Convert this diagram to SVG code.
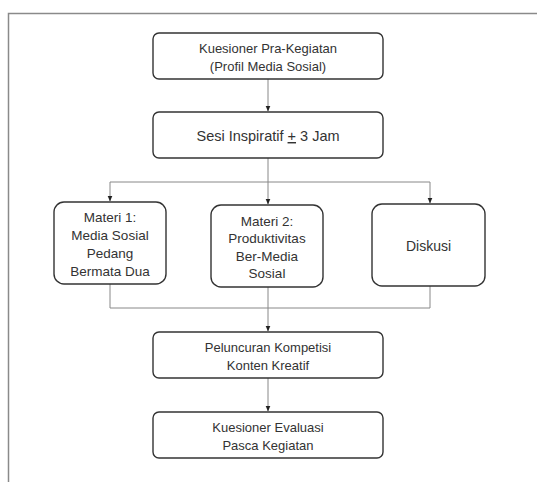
<svg xmlns="http://www.w3.org/2000/svg" width="537" height="482" viewBox="0 0 537 482">
<defs>
<marker id="ah" viewBox="0 0 6 6" refX="5.5" refY="3" markerWidth="6" markerHeight="6" markerUnits="userSpaceOnUse" orient="auto">
<path d="M0,0.5 L6,3 L0,5.5 Z" fill="#222"/>
</marker>
<style>
.box{fill:#fff;stroke:#333;stroke-width:1.4}
.t{font-family:"Liberation Sans",Arial,sans-serif;font-size:13px;fill:#333;text-anchor:middle}
.m{font-size:13.5px}
.c{fill:none;stroke:#888;stroke-width:1}
</style>
</defs>
<rect x="0" y="0" width="537" height="482" fill="#fff"/>
<path d="M8.5,482 V13.5 H537" fill="none" stroke="#8a8a8a" stroke-width="1.5"/>
<g id="connectors">
<path class="c" d="M268,79 V111" marker-end="url(#ah)"/>
<path class="c" d="M268,158 V204" marker-end="url(#ah)"/>
<path class="c" d="M110,182 H430 V203" marker-end="url(#ah)"/>
<path class="c" d="M110,182 V201" marker-end="url(#ah)"/>
<path class="c" d="M110,284 V308 H430 V286"/>
<path class="c" d="M268,287 V331" marker-end="url(#ah)"/>
<path class="c" d="M268,378 V411" marker-end="url(#ah)"/>
</g>
<g id="n1"><rect class="box" x="153" y="33" width="230" height="46" rx="6"/>
<text class="t" x="268" y="52.5">Kuesioner Pra-Kegiatan</text>
<text class="t" x="268" y="70.5">(Profil Media Sosial)</text></g>
<g id="n2"><rect class="box" x="153" y="112" width="230" height="46" rx="6"/>
<text class="t" x="268" y="141" style="font-size:14.5px">Sesi Inspiratif <tspan text-decoration="underline">+</tspan> 3 Jam</text></g>
<g id="n3"><rect class="box" x="54" y="202" width="112" height="82" rx="10"/>
<text class="t m" x="110" y="222">Materi 1:</text>
<text class="t m" x="110" y="240">Media Sosial</text>
<text class="t m" x="110" y="258">Pedang</text>
<text class="t m" x="110" y="276">Bermata Dua</text></g>
<g id="n4"><rect class="box" x="211" y="205" width="112" height="82" rx="10"/>
<text class="t m" x="267" y="225.5">Materi 2:</text>
<text class="t m" x="267" y="243">Produktivitas</text>
<text class="t m" x="267" y="260.5">Ber-Media</text>
<text class="t m" x="267" y="278">Sosial</text></g>
<g id="n5"><rect class="box" x="372" y="204" width="113" height="82" rx="10"/>
<text class="t" x="428.5" y="251" style="font-size:14px">Diskusi</text></g>
<g id="n6"><rect class="box" x="153" y="332" width="230" height="46" rx="6"/>
<text class="t" x="268" y="351.5">Peluncuran Kompetisi</text>
<text class="t" x="268" y="369.5">Konten Kreatif</text></g>
<g id="n7"><rect class="box" x="153" y="412" width="230" height="46" rx="6"/>
<text class="t" x="268" y="432">Kuesioner Evaluasi</text>
<text class="t" x="268" y="450">Pasca Kegiatan</text></g>
</svg>
